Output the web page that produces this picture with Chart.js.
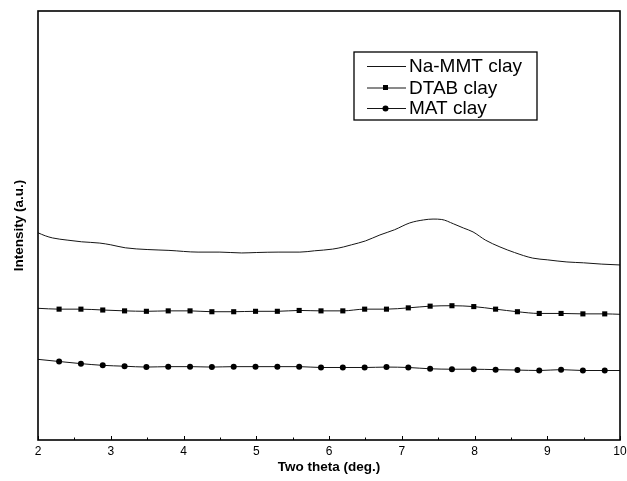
<!DOCTYPE html>
<html>
<head>
<meta charset="utf-8">
<script src="https://cdn.jsdelivr.net/npm/chart.js@4/dist/chart.umd.min.js"></script>
<style>
  html, body { margin: 0; padding: 0; background: #fff; }
  #wrap { width: 627px; height: 481px; }
</style>
</head>
<body>
<div id="wrap"><canvas id="c" width="627" height="481"></canvas></div>
<script>
// ---- data (arbitrary intensity units) ----
const xTickValues = [2, 3, 4, 5, 6, 7, 8, 9, 10];

const naMmtX = [2.0, 2.1, 2.2, 2.4, 2.6, 2.85, 3.0, 3.2, 3.5, 3.8, 4.2, 4.5, 4.8, 5.0, 5.3, 5.6, 5.8, 6.05, 6.2, 6.31, 6.5, 6.7, 6.9, 7.11, 7.3, 7.43, 7.55, 7.71, 7.85, 7.98, 8.15, 8.35, 8.55, 8.8, 9.0, 9.27, 9.5, 9.75, 10.0];
const naMmtY = [483, 476, 471, 466, 462, 459, 455, 448, 444, 442, 438, 438, 436, 437, 438, 438, 441, 445, 450, 455, 464, 478, 490, 506, 513, 515, 514, 504, 494, 485, 466, 450, 437, 424, 420, 415, 413, 410, 408];

const markerSeriesX = [2.0, 2.29, 2.59, 2.89, 3.19, 3.49, 3.79, 4.09, 4.39, 4.69, 4.99, 5.29, 5.59, 5.89, 6.19, 6.49, 6.79, 7.09, 7.39, 7.69, 7.99, 8.29, 8.59, 8.89, 9.19, 9.49, 9.79, 10.0];
const dtabY = [307, 305, 305, 303, 301, 300, 301, 301, 299, 299, 300, 300, 302, 301, 301, 305, 305, 308, 312, 313, 311, 305, 299, 295, 295, 294, 294, 293];
const matY  = [188, 183, 178, 174, 172, 170, 171, 171, 170, 171, 171, 171, 171, 169, 169, 169, 170, 169, 166, 165, 165, 164, 163, 162, 164, 162, 162, 162];

const seriesLabels = ['Na-MMT clay', 'DTAB clay', 'MAT clay'];
const xTitle = 'Two theta (deg.)';
const yTitle = 'Intensity (a.u.)';

// ---- build datasets ----
function pts(xs, ys) { return xs.map((x, i) => ({ x: x, y: ys[i] })); }
const lineColor = '#151515';
function markerRadius(r) {
  return ctx => (ctx.dataIndex === 0 || ctx.dataIndex === ctx.dataset.data.length - 1) ? 0 : r;
}

const datasets = [
  {
    label: seriesLabels[0], data: pts(naMmtX, naMmtY),
    borderColor: lineColor, borderWidth: 1, pointRadius: 0,
    cubicInterpolationMode: 'monotone', legendStyle: null
  },
  {
    label: seriesLabels[1], data: pts(markerSeriesX, dtabY),
    borderColor: lineColor, borderWidth: 1, backgroundColor: '#000',
    pointStyle: 'rect', pointRadius: markerRadius(3.6), pointBorderWidth: 0,
    cubicInterpolationMode: 'monotone', legendStyle: 'rect'
  },
  {
    label: seriesLabels[2], data: pts(markerSeriesX, matY),
    borderColor: lineColor, borderWidth: 1, backgroundColor: '#000',
    pointStyle: 'circle', pointRadius: markerRadius(3), pointBorderWidth: 0,
    cubicInterpolationMode: 'monotone', legendStyle: 'circle'
  }
];

// ---- plugins: frame, inward ticks, in-plot legend ----
const framePlugin = {
  id: 'frame',
  afterDatasetsDraw(chart) {
    const { ctx, chartArea: a, scales } = chart;
    const xs = scales.x;
    ctx.save();
    ctx.strokeStyle = '#000';
    ctx.lineWidth = 1;
    for (let v = 2; v <= 10.001; v += 0.5) {
      const px = Math.round(xs.getPixelForValue(v)) + 0.5;
      const len = (Math.abs(v - Math.round(v)) < 1e-6) ? 4 : 2.5;
      ctx.beginPath();
      ctx.moveTo(px, a.bottom);
      ctx.lineTo(px, a.bottom - len);
      ctx.stroke();
    }
    ctx.lineWidth = 1.6;
    ctx.strokeRect(a.left, a.top, a.right - a.left, a.bottom - a.top);
    ctx.restore();
  }
};

const legendPlugin = {
  id: 'inLegend',
  afterDraw(chart) {
    const { ctx } = chart;
    const box = { x: 354, y: 52, w: 183, h: 68 };
    ctx.save();
    ctx.fillStyle = '#fff';
    ctx.fillRect(box.x, box.y, box.w, box.h);
    ctx.strokeStyle = '#000';
    ctx.lineWidth = 1.3;
    ctx.strokeRect(box.x, box.y, box.w, box.h);
    const rows = [66, 87.5, 108];
    ctx.font = '19px "Liberation Sans", Arial, sans-serif';
    ctx.textBaseline = 'middle';
    chart.data.datasets.forEach((ds, i) => {
      const y = rows[i];
      ctx.strokeStyle = lineColor;
      ctx.lineWidth = 1;
      ctx.beginPath();
      ctx.moveTo(367, y + 0.5);
      ctx.lineTo(406, y + 0.5);
      ctx.stroke();
      ctx.fillStyle = '#000';
      if (ds.legendStyle === 'rect') {
        ctx.fillRect(383, y - 2.5, 5, 5);
      } else if (ds.legendStyle === 'circle') {
        ctx.beginPath();
        ctx.arc(385.5, y + 0.5, 3, 0, Math.PI * 2);
        ctx.fill();
      }
      ctx.fillStyle = '#000';
      ctx.fillText(ds.label, 409, y + 1);
    });
    ctx.restore();
  }
};

new Chart(document.getElementById('c'), {
  type: 'line',
  data: { datasets: datasets },
  plugins: [framePlugin, legendPlugin],
  options: {
    responsive: false,
    animation: false,
    layout: { padding: { top: 11, right: 0, left: 0, bottom: 0 } },
    plugins: { legend: { display: false }, tooltip: { enabled: false } },
    scales: {
      x: {
        type: 'linear', min: 2, max: 10,
        afterFit(scale) { scale.height = 41; scale.paddingRight = 7; scale.paddingLeft = 0; },
        afterBuildTicks(scale) { scale.ticks = xTickValues.map(v => ({ value: v })); },
        grid: { display: false, drawTicks: false },
        border: { display: false },
        ticks: {
          padding: 4, color: '#000',
          font: { family: '"Liberation Sans", Arial, sans-serif', size: 12 },
          callback: v => String(v)
        },
        title: {
          display: true, text: xTitle, color: '#000',
          font: { family: '"Liberation Sans", Arial, sans-serif', size: 13.5, weight: 'bold' },
          padding: { top: 0, bottom: 6 }
        }
      },
      y: {
        type: 'linear', min: 0, max: 1000,
        afterFit(scale) { scale.width = 38; },
        grid: { display: false, drawTicks: false },
        border: { display: false },
        ticks: { display: false },
        title: {
          display: true, text: yTitle, color: '#000',
          font: { family: '"Liberation Sans", Arial, sans-serif', size: 13.5, weight: 'bold' },
          padding: { top: 11, bottom: 0 }
        }
      }
    }
  }
});
</script>
</body>
</html>
